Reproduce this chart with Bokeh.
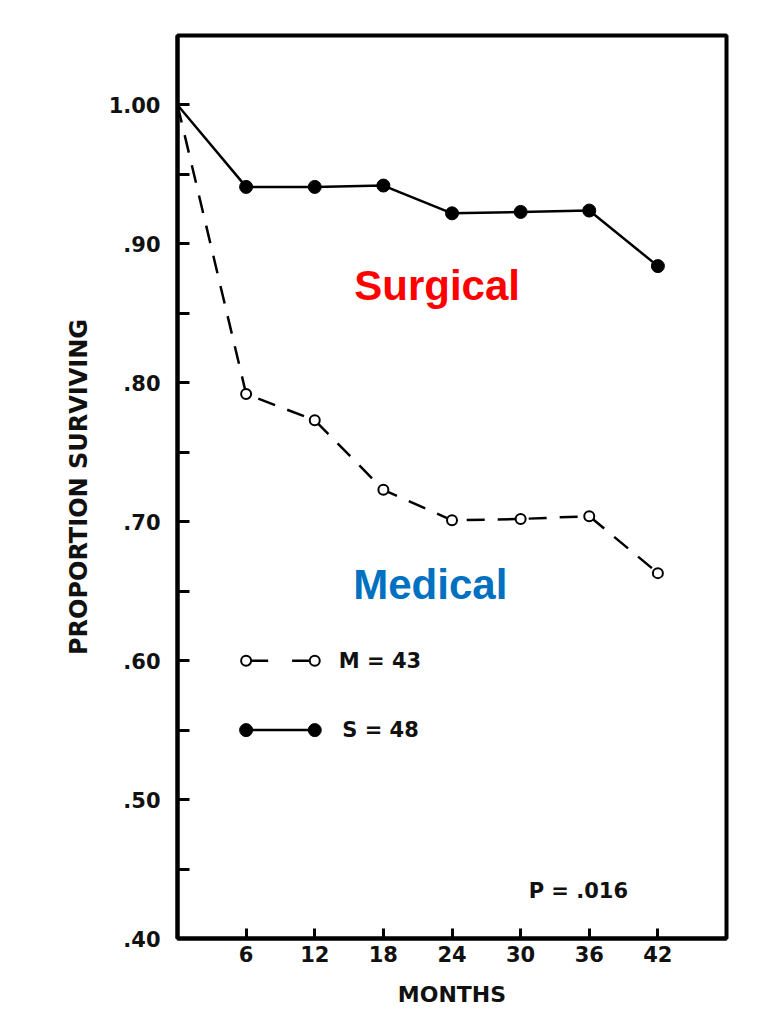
from bokeh.plotting import figure
from bokeh.models import FixedTicker, Range1d, Label, ColumnDataSource
from bokeh.embed import file_html
from bokeh.resources import INLINE

# ---- data ----
MONTHS = [0, 6, 12, 18, 24, 30, 36, 42]
SURGICAL = [1.000, 0.941, 0.941, 0.942, 0.922, 0.923, 0.924, 0.884]
MEDICAL = [1.000, 0.792, 0.773, 0.723, 0.701, 0.702, 0.704, 0.663]
X_TICKS = [6, 12, 18, 24, 30, 36, 42]
Y_TICKS = [0.40, 0.50, 0.60, 0.70, 0.80, 0.90, 1.00]
Y_TICK_LABELS = [".40", ".50", ".60", ".70", ".80", ".90", "1.00"]
Y_MINOR = [0.45, 0.55, 0.65, 0.75, 0.85, 0.95]
N_MEDICAL = 43
N_SURGICAL = 48
P_VALUE = ".016"

FONT = "DejaVu Sans"
INK = "#111111"

p = figure(width=769, height=1012, output_backend="svg", toolbar_location=None,
           x_range=Range1d(0, 48), y_range=Range1d(0.40, 1.05),
           min_border_left=177, min_border_right=43, min_border_top=35, min_border_bottom=74)
p.background_fill_color = "white"
p.border_fill_color = "white"
p.grid.visible = False
p.outline_line_color = "black"
p.outline_line_width = 4
p.outline_line_alpha = 1.0

# x axis
xa = p.xaxis[0]
xa.ticker = FixedTicker(ticks=X_TICKS)
xa.axis_line_width = 4
xa.major_tick_in = 10
xa.major_tick_out = 0
xa.major_tick_line_width = 3
xa.minor_tick_line_color = None
xa.major_label_text_font = FONT
xa.major_label_text_font_style = "bold"
xa.major_label_text_font_size = "21px"
xa.major_label_text_color = INK
xa.major_label_standoff = 7
xa.axis_label = "MONTHS"
xa.axis_label_text_font = FONT
xa.axis_label_text_font_style = "bold"
xa.axis_label_text_font_size = "22px"
xa.axis_label_text_color = INK
xa.axis_label_standoff = 17

# y axis
ya = p.yaxis[0]
ya.ticker = FixedTicker(ticks=Y_TICKS, minor_ticks=Y_MINOR)
ya.major_label_overrides = {t: l for t, l in zip(Y_TICKS, Y_TICK_LABELS)}
ya.axis_line_width = 4
ya.major_tick_in = 12
ya.major_tick_out = 0
ya.major_tick_line_width = 3
ya.minor_tick_in = 12
ya.minor_tick_out = 0
ya.minor_tick_line_width = 3
ya.minor_tick_line_color = "black"
ya.major_label_text_font = FONT
ya.major_label_text_font_style = "bold"
ya.major_label_text_font_size = "21px"
ya.major_label_text_color = INK
ya.major_label_standoff = 17
ya.axis_label = "PROPORTION SURVIVING"
ya.axis_label_text_font = FONT
ya.axis_label_text_font_style = "bold"
ya.axis_label_text_font_size = "24px"
ya.axis_label_text_color = INK
ya.axis_label_standoff = 13

# ---- series ----
src = ColumnDataSource(dict(m=MONTHS, s=SURGICAL, med=MEDICAL))
src_pts = ColumnDataSource(dict(m=MONTHS[1:], s=SURGICAL[1:], med=MEDICAL[1:]))

p.line("m", "s", source=src, line_color="black", line_width=2.5)
p.scatter("m", "s", source=src_pts, size=13, fill_color="black", line_color="black")

p.line("m", "med", source=src, line_color="black", line_width=2.5, line_dash="18 13")
p.scatter("m", "med", source=src_pts, size=10, fill_color="white", line_color="black", line_width=2)

# ---- hand-drawn key (placed at the first two month ticks) ----
kx = [X_TICKS[0], X_TICKS[1]]
key_m_y = Y_TICKS[2]   # .60
key_s_y = Y_MINOR[1]   # .55
p.line(kx, [key_m_y] * 2, line_color="black", line_width=2.5, line_dash="22 24")
p.scatter(kx, [key_m_y] * 2, size=10, fill_color="white", line_color="black", line_width=2)
p.line(kx, [key_s_y] * 2, line_color="black", line_width=2.5)
p.scatter(kx, [key_s_y] * 2, size=13, fill_color="black", line_color="black")

p.add_layout(Label(x=14.1, y=key_m_y, text=f"M = {N_MEDICAL}", text_font=FONT,
                   text_font_style="bold", text_font_size="21px", text_color=INK,
                   text_baseline="middle", text_align="left"))
p.add_layout(Label(x=14.4, y=key_s_y, text=f"S = {N_SURGICAL}", text_font=FONT,
                   text_font_style="bold", text_font_size="21px", text_color=INK,
                   text_baseline="middle", text_align="left"))
p.add_layout(Label(x=30.7, y=0.4345, text=f"P = {P_VALUE}", text_font=FONT,
                   text_font_style="bold", text_font_size="21px", text_color=INK,
                   text_baseline="middle", text_align="left"))

# ---- group names ----
p.add_layout(Label(x=22.7, y=0.870, text="Surgical", text_font="Liberation Sans",
                   text_font_style="bold", text_font_size="42px", text_color="#FF0000",
                   text_baseline="alphabetic", text_align="center"))
p.add_layout(Label(x=22.1, y=0.655, text="Medical", text_font="Liberation Sans",
                   text_font_style="bold", text_font_size="42px", text_color="#0070C0",
                   text_baseline="alphabetic", text_align="center"))

open("out.html", "w").write(file_html(p, INLINE))
